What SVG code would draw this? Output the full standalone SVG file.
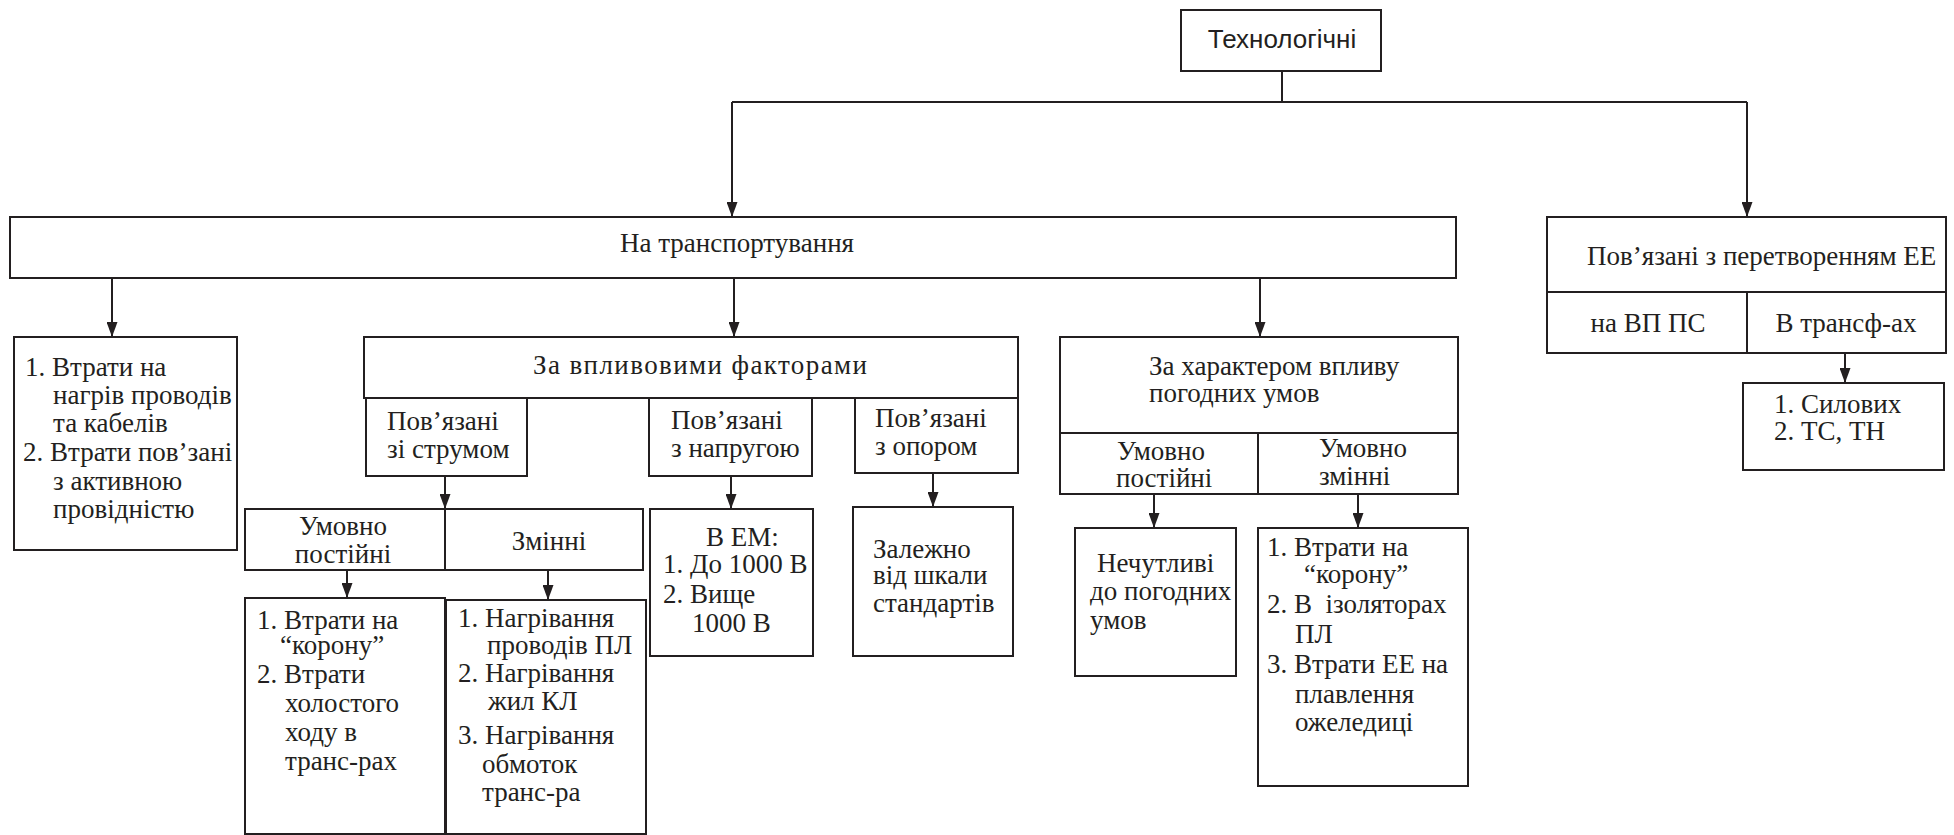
<svg xmlns="http://www.w3.org/2000/svg" width="1954" height="835" viewBox="0 0 1954 835">
  <style>
    .box { fill: #ffffff; stroke: #231f20; stroke-width: 2; }
    .ln { fill: none; stroke: #231f20; stroke-width: 2; }
    .t { font-family: "Liberation Serif", "Times New Roman", serif; font-size: 27px; fill: #231f20; }
    .s { font-family: "Liberation Sans", Arial, sans-serif; font-size: 26px; fill: #231f20; }
    .c { text-anchor: middle; }
    .pre { white-space: pre; }
  </style>
  <defs>
    <marker id="arrow" viewBox="0 0 15 11" refX="15" refY="5.5" markerWidth="15" markerHeight="11" markerUnits="userSpaceOnUse" orient="auto">
      <path d="M0,0 L15,5.5 L0,11 z" fill="#231f20"/>
    </marker>
  </defs>
  <rect width="1954" height="835" fill="#ffffff"/>

  <!-- connectors -->
  <g id="connectors">
    <line class="ln" x1="1282" y1="71" x2="1282" y2="102"/>
    <line class="ln" x1="732" y1="102" x2="1747" y2="102"/>
    <line class="ln" x1="732" y1="102" x2="732" y2="217" marker-end="url(#arrow)"/>
    <line class="ln" x1="1747" y1="102" x2="1747" y2="217" marker-end="url(#arrow)"/>
    <line class="ln" x1="112" y1="278" x2="112" y2="337" marker-end="url(#arrow)"/>
    <line class="ln" x1="734" y1="278" x2="734" y2="337" marker-end="url(#arrow)"/>
    <line class="ln" x1="1260" y1="278" x2="1260" y2="337" marker-end="url(#arrow)"/>
    <line class="ln" x1="445" y1="476" x2="445" y2="509" marker-end="url(#arrow)"/>
    <line class="ln" x1="347" y1="570" x2="347" y2="598" marker-end="url(#arrow)"/>
    <line class="ln" x1="548" y1="570" x2="548" y2="600" marker-end="url(#arrow)"/>
    <line class="ln" x1="731" y1="476" x2="731" y2="509" marker-end="url(#arrow)"/>
    <line class="ln" x1="933" y1="473" x2="933" y2="507" marker-end="url(#arrow)"/>
    <line class="ln" x1="1154" y1="494" x2="1154" y2="528" marker-end="url(#arrow)"/>
    <line class="ln" x1="1358" y1="494" x2="1358" y2="528" marker-end="url(#arrow)"/>
    <line class="ln" x1="1845" y1="353" x2="1845" y2="383" marker-end="url(#arrow)"/>
  </g>

  <!-- root -->
  <g id="tech">
    <rect class="box" x="1181" y="10" width="200" height="61"/>
    <text class="s c" x="1282" y="48">Технологічні</text>
  </g>

  <!-- transport losses -->
  <g id="transport">
    <rect class="box" x="10" y="217" width="1446" height="61"/>
    <text class="t c" x="737" y="252">На транспортування</text>
  </g>

  <g id="heating">
    <rect class="box" x="14" y="337" width="223" height="213"/>
    <text class="t" x="25" y="376">1. Втрати на</text>
    <text class="t" x="53" y="404">нагрів проводів</text>
    <text class="t" x="53" y="432">та кабелів</text>
    <text class="t" x="23" y="461">2. Втрати пов’зані</text>
    <text class="t" x="53" y="490">з активною</text>
    <text class="t" x="53" y="518">провідністю</text>
  </g>

  <g id="factors">
    <rect class="box" x="364" y="337" width="654" height="61"/>
    <text class="t" x="533" y="374" textLength="334" lengthAdjust="spacing">За впливовими факторами</text>
  </g>

  <g id="current">
    <rect class="box" x="366" y="398" width="161" height="78"/>
    <text class="t" x="387" y="430">Пов’язані</text>
    <text class="t" x="387" y="458">зі струмом</text>
  </g>

  <g id="voltage">
    <rect class="box" x="649" y="398" width="163" height="78"/>
    <text class="t" x="671" y="429">Пов’язані</text>
    <text class="t" x="671" y="457">з напругою</text>
  </g>

  <g id="resistance">
    <rect class="box" x="855" y="398" width="163" height="75"/>
    <text class="t" x="875" y="427">Пов’язані</text>
    <text class="t" x="875" y="455">з опором</text>
  </g>

  <g id="current-split">
    <rect class="box" x="245" y="509" width="398" height="61"/>
    <line class="ln" x1="445" y1="509" x2="445" y2="570"/>
    <text class="t c" x="343" y="535">Умовно</text>
    <text class="t c" x="343" y="563">постійні</text>
    <text class="t c" x="549" y="550">Змінні</text>
  </g>

  <g id="current-const">
    <rect class="box" x="245" y="598" width="200" height="236"/>
    <text class="t" x="257" y="629">1. Втрати на</text>
    <text class="t" x="280" y="654">“корону”</text>
    <text class="t" x="257" y="683">2. Втрати</text>
    <text class="t" x="285" y="712">холостого</text>
    <text class="t" x="285" y="741">ходу в</text>
    <text class="t" x="285" y="770">транс-рах</text>
  </g>

  <g id="current-var">
    <rect class="box" x="446" y="600" width="200" height="234"/>
    <text class="t" x="458" y="627">1. Нагрівання</text>
    <text class="t" x="487" y="654">проводів ПЛ</text>
    <text class="t" x="458" y="682">2. Нагрівання</text>
    <text class="t" x="488" y="710">жил КЛ</text>
    <text class="t" x="458" y="744">3. Нагрівання</text>
    <text class="t" x="482" y="773">обмоток</text>
    <text class="t" x="482" y="801">транс-ра</text>
  </g>

  <g id="voltage-list">
    <rect class="box" x="650" y="509" width="163" height="147"/>
    <text class="t" x="706" y="546">В ЕМ:</text>
    <text class="t" x="663" y="573">1. До 1000 В</text>
    <text class="t" x="663" y="603">2. Вище</text>
    <text class="t" x="692" y="632">1000 В</text>
  </g>

  <g id="resistance-list">
    <rect class="box" x="853" y="507" width="160" height="149"/>
    <text class="t" x="873" y="558">Залежно</text>
    <text class="t" x="873" y="584">від шкали</text>
    <text class="t" x="873" y="612">стандартів</text>
  </g>

  <g id="weather">
    <rect class="box" x="1060" y="337" width="398" height="157"/>
    <line class="ln" x1="1060" y1="433" x2="1458" y2="433"/>
    <line class="ln" x1="1258" y1="433" x2="1258" y2="494"/>
    <text class="t" x="1149" y="375">За характером впливу</text>
    <text class="t" x="1149" y="402">погодних умов</text>
    <text class="t" x="1117" y="460">Умовно</text>
    <text class="t" x="1116" y="487">постійні</text>
    <text class="t" x="1319" y="457">Умовно</text>
    <text class="t" x="1319" y="485">змінні</text>
  </g>

  <g id="weather-const">
    <rect class="box" x="1075" y="528" width="161" height="148"/>
    <text class="t" x="1097" y="572">Нечутливі</text>
    <text class="t" x="1090" y="600">до погодних</text>
    <text class="t" x="1090" y="629">умов</text>
  </g>

  <g id="weather-var">
    <rect class="box" x="1258" y="528" width="210" height="258"/>
    <text class="t" x="1267" y="556">1. Втрати на</text>
    <text class="t" x="1304" y="583">“корону”</text>
    <text class="t pre" x="1267" y="613">2. В  ізоляторах</text>
    <text class="t" x="1295" y="643">ПЛ</text>
    <text class="t" x="1267" y="673">3. Втрати ЕЕ на</text>
    <text class="t" x="1295" y="703">плавлення</text>
    <text class="t" x="1295" y="731">ожеледиці</text>
  </g>

  <!-- conversion losses -->
  <g id="conversion">
    <rect class="box" x="1547" y="217" width="399" height="136"/>
    <line class="ln" x1="1547" y1="292" x2="1946" y2="292"/>
    <line class="ln" x1="1747" y1="292" x2="1747" y2="353"/>
    <text class="t" x="1587" y="265">Пов’язані з перетворенням ЕЕ</text>
    <text class="t c" x="1648" y="332">на ВП ПС</text>
    <text class="t c" x="1846" y="332">В трансф-ах</text>
  </g>

  <g id="transformers">
    <rect class="box" x="1743" y="383" width="201" height="87"/>
    <text class="t" x="1774" y="413">1. Силових</text>
    <text class="t" x="1774" y="440">2. ТС, ТН</text>
  </g>
</svg>
